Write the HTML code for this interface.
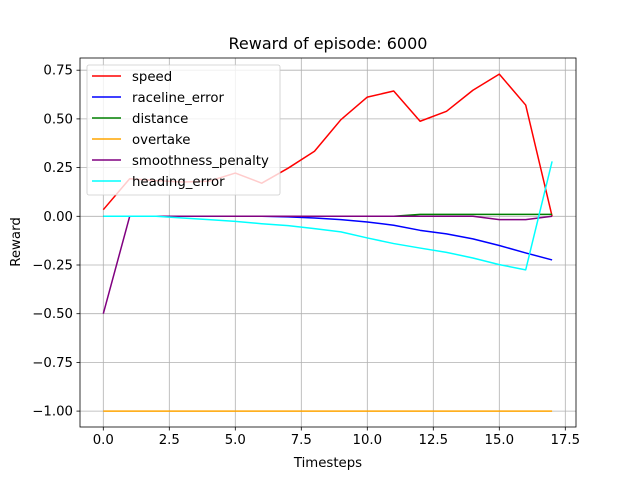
<!DOCTYPE html>
<html><head><meta charset="utf-8"><style>body{margin:0;background:#fff}svg{font-family:"DejaVu Sans","Liberation Sans",sans-serif}</style></head>
<body>
<svg id="chart" width="640" height="480" xmlns="http://www.w3.org/2000/svg"></svg>
<script>
const timesteps=[0,1,2,3,4,5,6,7,8,9,10,11,12,13,14,15,16,17];
const speed=[0.034,0.193,0.183,0.176,0.18,0.222,0.17,0.247,0.334,0.496,0.612,0.643,0.488,0.539,0.647,0.73,0.571,0.0];
const raceline=[0,0,0,0,0,0,0,-0.003,-0.009,-0.017,-0.029,-0.046,-0.072,-0.09,-0.116,-0.15,-0.188,-0.224];
const distance=[0,0,0,0,0,0,0,0,0,0,0,0,0.01,0.01,0.01,0.01,0.01,0.01];
const overtake=[-1,-1,-1,-1,-1,-1,-1,-1,-1,-1,-1,-1,-1,-1,-1,-1,-1,-1];
const smoothness=[-0.5,0,0,0,0,0,0,0,0,0,0,0,0,0,0,-0.017,-0.017,0];
const heading=[0,0,0,-0.009,-0.017,-0.026,-0.038,-0.048,-0.063,-0.08,-0.111,-0.14,-0.163,-0.185,-0.214,-0.248,-0.275,0.282];
const xTicks=[0,2.5,5,7.5,10,12.5,15,17.5];
const xTickLabels=["0.0","2.5","5.0","7.5","10.0","12.5","15.0","17.5"];
const yTicks=[0.75,0.5,0.25,0,-0.25,-0.5,-0.75,-1];
const yTickLabels=["0.75","0.50","0.25","0.00","−0.25","−0.50","−0.75","−1.00"];
const series=[["speed",speed,"#ff0000"],["raceline_error",raceline,"#0000ff"],["distance",distance,"#008000"],["overtake",overtake,"#ffa500"],["smoothness_penalty",smoothness,"#800080"],["heading_error",heading,"#00ffff"]];
const L=80,R=576,T=58,B=427;
const sx=v=>103.3+v*26.4;
const sy=v=>216.3-v*194.8;
const svg=document.getElementById('chart');
const NS="http://www.w3.org/2000/svg";
function mk(tag,attrs,parent){const e=document.createElementNS(NS,tag);for(const k in attrs)e.setAttribute(k,attrs[k]);(parent||svg).appendChild(e);return e;}
xTicks.forEach((t,i)=>{const g=mk('line',{x1:sx(t),x2:sx(t),y1:T,y2:B,stroke:'#b0b0b0','stroke-width':0.8});

const tk=mk('line',{x1:sx(t),x2:sx(t),y1:B,y2:B+3.5,stroke:'#000','stroke-width':0.8});

const tx=mk('text',{x:sx(t),y:B+17,'text-anchor':'middle','font-size':'13.3'});tx.textContent=xTickLabels[i];
});
yTicks.forEach((t,i)=>{const g=mk('line',{x1:L,x2:R,y1:sy(t),y2:sy(t),stroke:'#b0b0b0','stroke-width':0.8});

const tk=mk('line',{x1:L-3.5,x2:L,y1:sy(t),y2:sy(t),stroke:'#000','stroke-width':0.8});

const tx=mk('text',{x:L-7,y:sy(t)+4.5,'text-anchor':'end','font-size':'13.3'});tx.textContent=yTickLabels[i];
});
series.forEach(([name,vals,col])=>{const p=mk('polyline',{points:vals.map((v,i)=>sx(timesteps[i])+','+sy(v)).join(' '),fill:'none',stroke:col,'stroke-width':1.5,'stroke-linejoin':'round'});
});
const fr=mk('rect',{x:L,y:T,width:R-L,height:B-T,fill:'none',stroke:'#000','stroke-width':0.8});

const lg=mk('g',{});
mk('rect',{x:87,y:65,width:193,height:130,rx:2,fill:'#fff','fill-opacity':0.8,stroke:'#ccc','stroke-width':0.8},lg);
series.forEach(([name,vals,col],i)=>{const y=76+i*21;
const e=mk('g',{},lg);
mk('line',{x1:92,x2:121,y1:y,y2:y,stroke:col,'stroke-width':1.5},e);
const t=mk('text',{x:132,y:y+4.8,'font-size':'13.3'},e);t.textContent=name;});
const ti=mk('text',{x:328,y:49,'text-anchor':'middle','font-size':'16'});ti.textContent='Reward of episode: 6000';

const xl=mk('text',{x:328,y:467,'text-anchor':'middle','font-size':'13.3'});xl.textContent='Timesteps';

const yl=mk('text',{x:20,y:242,'text-anchor':'middle','font-size':'13.3',transform:'rotate(-90 20 242)'});yl.textContent='Reward';

</script>
</body></html>
